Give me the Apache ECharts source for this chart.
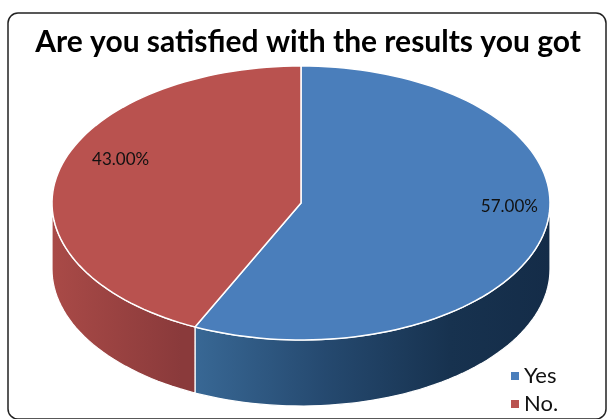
<!DOCTYPE html>
<html>
<head>
<meta charset="utf-8">
<script src="https://cdn.jsdelivr.net/npm/echarts@6/dist/echarts.min.js"></script>
<style>
  html, body { margin: 0; padding: 0; background: #ffffff; }
  #chart { width: 607px; height: 419px; }
</style>
</head>
<body>
<div id="chart"></div>
<script>
// Survey answers
const categories = ['Yes', 'No.'];
const shares = [57, 43];
const percentLabels = ['57.00%', '43.00%'];

// Styling
const topColors = ['#4a7ebb', '#b9524f'];
const sideStops = [
  [[0.25, '#3b6c9a'], [0.55, '#25496f'], [0.8, '#17324f'], [1, '#142c48']],
  [[0, '#a94a47'], [0.26, '#8a3a3b']]
];
const PIE = { cx: 301, cy: 203, rx: 249, ry: 137, depth: 66 };
const FONT = 'Lato, "Open Sans", sans-serif';

const total = shares.reduce((a, b) => a + b, 0);
const startAngles = [];
let acc = -90;
shares.forEach(v => { startAngles.push(acc); acc += v / total * 360; });

function ellPt(deg, dy) {
  const r = deg * Math.PI / 180;
  return [PIE.cx + PIE.rx * Math.cos(r), PIE.cy + PIE.ry * Math.sin(r) + (dy || 0)];
}
function arcPts(a0, a1, dy) {
  const n = Math.max(2, Math.ceil(Math.abs(a1 - a0) / 2));
  const pts = [];
  for (let i = 0; i <= n; i++) pts.push(ellPt(a0 + (a1 - a0) * i / n, dy));
  return pts;
}

function renderSlice(params, api) {
  const idx = params.seriesIndex;
  const a0 = startAngles[idx];
  const a1 = a0 + api.value(0) / total * 360;
  const children = [];

  // front wall: only the part facing the viewer (0..180 deg)
  const s = Math.max(a0, 0), e = Math.min(a1, 180);
  if (e > s) {
    const pts = arcPts(s, e, 0).concat(arcPts(e, s, PIE.depth));
    children.push({
      type: 'polygon',
      shape: { points: pts },
      style: {
        fill: new echarts.graphic.LinearGradient(
          PIE.cx - PIE.rx, 0, PIE.cx + PIE.rx, 0,
          sideStops[idx].map(([o, c]) => ({ offset: o, color: c })), true),
        stroke: '#ffffff', lineWidth: 1.2
      }
    });
  }

  // top face
  const topPts = [[PIE.cx, PIE.cy]].concat(arcPts(a0, a1, 0));
  children.push({
    type: 'polygon',
    shape: { points: topPts },
    style: { fill: topColors[idx], stroke: '#ffffff', lineWidth: 1.5 }
  });

  // percentage label, placed on the top face along the slice's middle angle
  const mid = (a0 + a1) / 2 * Math.PI / 180;
  children.push({
    type: 'text',
    x: PIE.cx + PIE.rx * 0.8 * Math.cos(mid) + 14,
    y: PIE.cy + PIE.ry * 0.8 * Math.sin(mid) - 20,
    style: {
      text: percentLabels[idx], fill: '#111111',
      font: '17px ' + FONT, align: 'center', verticalAlign: 'middle'
    }
  });
  return { type: 'group', children };
}

const chart = echarts.init(document.getElementById('chart'), null, { renderer: 'canvas' });
chart.setOption({
  backgroundColor: '#ffffff',
  animation: false,
  legend: {
    orient: 'vertical', left: 511, top: 365, padding: 0,
    icon: 'rect', itemWidth: 8, itemHeight: 8, itemGap: 6,
    textStyle: { fontSize: 22, lineHeight: 22, fontFamily: FONT, color: '#111111' },
    data: categories
  },
  graphic: [
    {
      type: 'rect', silent: true,
      shape: { x: 8, y: 13, width: 598, height: 406, r: 10 },
      style: { fill: 'none', stroke: '#222222', lineWidth: 1.5 }
    },
    {
      type: 'text', silent: true, x: 308, y: 42,
      style: {
        text: 'Are you satisfied with the results you got',
        font: 'bold 30px ' + FONT, fill: '#000000',
        align: 'center', verticalAlign: 'middle'
      }
    }
  ],
  series: categories.map((name, i) => ({
    type: 'custom', name, coordinateSystem: 'none', silent: true,
    itemStyle: { color: topColors[i] },
    data: [[shares[i]]],
    renderItem: renderSlice
  }))
});
</script>
</body>
</html>
